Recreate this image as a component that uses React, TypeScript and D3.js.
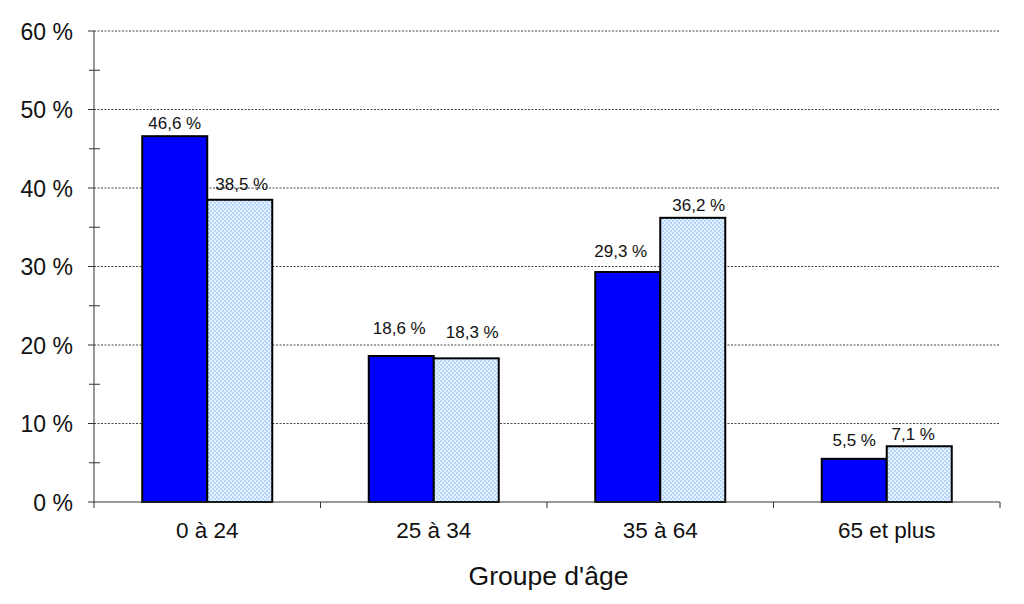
import React from "react";
import * as d3 from "d3";

const categories = ["0 à 24", "25 à 34", "35 à 64", "65 et plus"];
const seriesA = [46.6, 18.6, 29.3, 5.5];
const seriesB = [38.5, 18.3, 36.2, 7.1];
const yTicks = [0, 10, 20, 30, 40, 50, 60];
const minorTicks = [5, 15, 25, 35, 45, 55];
const labelLiftA = [7, 22, 15, 13];
const labelLiftB = [10, 20, 7, 6];
const labelShiftA = [0, -2, -7, 0];
const labelShiftB = [2, 6, 6, -6];
const xTitle = "Groupe d'âge";

const fmt = (v: number) => v.toFixed(1).replace(".", ",") + " %";

export default function App() {
  const W = 1024, H = 604;
  const left = 94, right = 1000, top = 31, bottom = 502;
  const x = d3.scaleBand<string>().domain(categories).range([left, right]).paddingInner(0).paddingOuter(0);
  const y = d3.scaleLinear().domain([0, 60]).range([bottom, top]);
  const bw = 65;
  const font = "Liberation Sans, Arial, sans-serif";

  return (
    <svg width={W} height={H} style={{ position: "absolute", left: 0, top: 0, background: "#fff" }}>
      <defs>
        <pattern id="dots" width="4" height="4" patternUnits="userSpaceOnUse">
          <rect width="4" height="4" fill="#e6f2ff" />
          <rect width="2" height="2" fill="#b4d6fa" />
          <rect x="2" y="2" width="2" height="2" fill="#b4d6fa" />
        </pattern>
      </defs>
      {yTicks.map((t) => (
        <g key={"g" + t}>
          {t > 0 && (
            <line x1={left} x2={right} y1={y(t)} y2={y(t)} stroke="#444" strokeWidth={1} strokeDasharray="2,1.5" />
          )}
          <line x1={left - 6} x2={left} y1={y(t)} y2={y(t)} stroke="#333" strokeWidth={1} />
          <text x={73} y={y(t) + 8.5} textAnchor="end" fontFamily={font} fontSize={23} fill="#111">
            {t} %
          </text>
        </g>
      ))}
      {minorTicks.map((t) => (
        <line key={"m" + t} x1={left - 5} x2={left + 6} y1={y(t)} y2={y(t)} stroke="#333" strokeWidth={1} />
      ))}
      {categories.map((c, i) => {
        const cx = (x(c) as number) + x.bandwidth() / 2;
        const a = seriesA[i], b = seriesB[i];
        return (
          <g key={c}>
            <rect x={cx - bw} y={y(a)} width={bw} height={bottom - y(a)} fill="#0000ff" stroke="#000" strokeWidth={2} />
            <rect x={cx} y={y(b)} width={bw} height={bottom - y(b)} fill="url(#dots)" stroke="#000" strokeWidth={2} />
            <text x={cx - bw / 2 + labelShiftA[i]} y={y(a) - labelLiftA[i]} textAnchor="middle" fontFamily={font} fontSize={17} fill="#111">
              {fmt(a)}
            </text>
            <text x={cx + bw / 2 + labelShiftB[i]} y={y(b) - labelLiftB[i]} textAnchor="middle" fontFamily={font} fontSize={17} fill="#111">
              {fmt(b)}
            </text>
            <text x={cx} y={538} textAnchor="middle" fontFamily={font} fontSize={22.5} fill="#111">
              {c}
            </text>
          </g>
        );
      })}
      <line x1={left} x2={left} y1={top} y2={bottom + 6} stroke="#333" strokeWidth={1} />
      <line x1={left} x2={right} y1={bottom} y2={bottom} stroke="#333" strokeWidth={1} />
      {categories.map((c, i) => (
        <line key={"xt" + i} x1={(x(c) as number) + x.bandwidth()} x2={(x(c) as number) + x.bandwidth()} y1={bottom} y2={bottom + 6} stroke="#333" strokeWidth={1} />
      ))}
      <text x={(left + right) / 2 + 1.5} y={585} textAnchor="middle" fontFamily={font} fontSize={26.5} fill="#111">
        {xTitle}
      </text>
    </svg>
  );
}
